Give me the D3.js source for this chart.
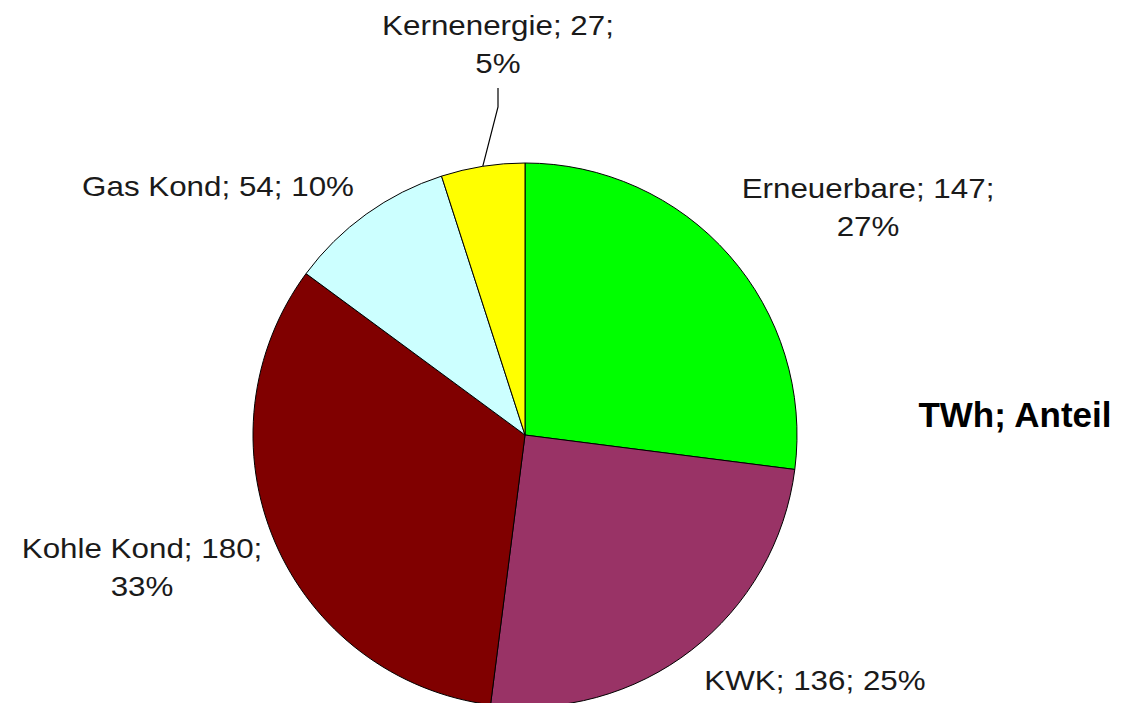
<!DOCTYPE html>
<html>
<head>
<meta charset="utf-8">
<script src="https://cdn.jsdelivr.net/npm/d3@7"></script>
<style>
  body { margin: 0; background: #fff; }
  svg { display: block; }
  text { font-family: "Liberation Sans", Arial, sans-serif; }
</style>
</head>
<body>
<svg id="chart" width="1122" height="703"></svg>
<script>
// data
var categories = ['Erneuerbare', 'KWK', 'Kohle Kond', 'Gas Kond', 'Kernenergie'];
var values = [147, 136, 180, 54, 27];
var shares = ['27%', '25%', '33%', '10%', '5%'];
var colors = ['#00ff00', '#993366', '#800000', '#ccffff', '#ffff00'];

// label layout: lines, centre x, first baseline
var labelPos = [
  {x: 868, y: 198, lines: 2},
  {x: 815, y: 690, lines: 1},
  {x: 142, y: 558, lines: 2},
  {x: 218, y: 196, lines: 1},
  {x: 498, y: 35, lines: 2}
];

var svg = d3.select('#chart');
var cx = 525, cy = 435, r = 272;

var pie = d3.pie().sort(null).value(function(d) { return d; });
var arcs = pie(values);
var arc = d3.arc().innerRadius(0).outerRadius(r);

var g = svg.append('g').attr('transform', 'translate(' + cx + ',' + cy + ')');
g.selectAll('path').data(arcs).enter().append('path')
  .attr('d', arc)
  .attr('fill', function(d, i) { return colors[i]; })
  .attr('stroke', '#000')
  .attr('stroke-width', 1);

// labels
arcs.forEach(function(d, i) {
  var p = labelPos[i];
  var lines;
  if (p.lines == 2) {
    lines = [categories[i] + '; ' + values[i] + ';', shares[i]];
  } else {
    lines = [categories[i] + '; ' + values[i] + '; ' + shares[i]];
  }
  lines.forEach(function(t, j) {
    svg.append('text')
      .attr('transform', 'translate(' + p.x + ',' + (p.y + j * 38) + ') scale(1.12,1)')
      .attr('text-anchor', 'middle')
      .attr('font-size', 28)
      .attr('fill', '#1a1a1a')
      .text(t);
  });
});

// leader line for Kernenergie
var k = arcs[4];
var mid = (k.startAngle + k.endAngle) / 2;
var ex = cx + r * Math.sin(mid), ey = cy - r * Math.cos(mid);
svg.append('polyline')
  .attr('points', [[498, 88], [498, 107], [ex, ey]].map(function(p) { return p.join(','); }).join(' '))
  .attr('fill', 'none')
  .attr('stroke', '#000')
  .attr('stroke-width', 1.2);

svg.append('text')
  .attr('x', 1015).attr('y', 427)
  .attr('text-anchor', 'middle')
  .attr('font-size', 35)
  .attr('font-weight', 'bold')
  .attr('fill', '#000')
  .text('TWh; Anteil');
</script>
</body>
</html>
